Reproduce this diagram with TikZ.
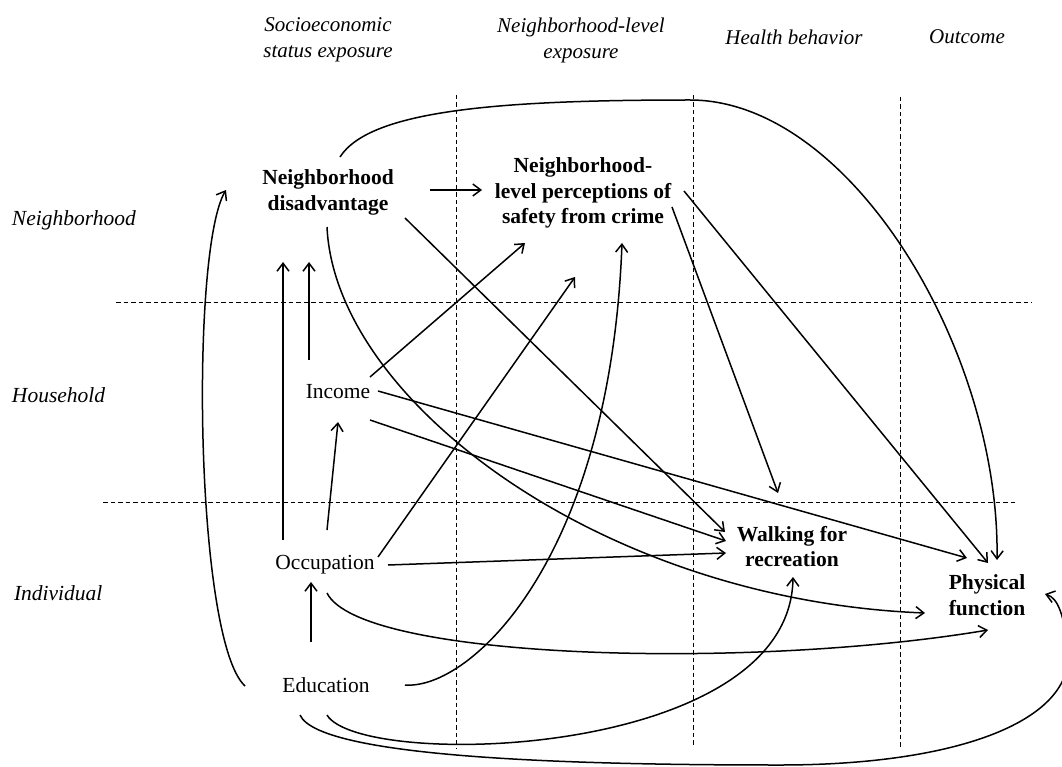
\documentclass[tikz,border=0pt]{standalone}
\usepackage{fontspec}
\setmainfont{Liberation Serif}
\usetikzlibrary{arrows.meta,calc}
\begin{document}
\begin{tikzpicture}[x=1pt,y=-1pt,
  every node/.style={inner sep=0pt, outer sep=0pt, align=center},
  var/.style={font=\fontsize{21.5}{25.5}\selectfont\bfseries},
  lab/.style={font=\fontsize{21.5}{25.5}\selectfont},
  hdr/.style={font=\fontsize{21}{26}\selectfont\itshape},
  rowlab/.style={font=\fontsize{21.5}{26}\selectfont\itshape, anchor=west, align=left},
  gridline/.style={dash pattern=on 4.5pt off 3pt, line width=1pt},
  arr/.style={line width=1.5pt, -{Straight Barb[length=8pt,width=12pt]}}]
\fill[white] (0,0) rectangle (1062,767);
\useasboundingbox (0,0) rectangle (1062,767);

% grid
\draw[gridline] (456,95) -- (456,749);
\draw[gridline] (693,95) -- (693,746);
\draw[gridline] (900,97) -- (900,748);
\draw[gridline] (116,302) -- (1032,302);
\draw[gridline] (103,502) -- (1018,502);

% headers
\node[hdr] (h1) at (328,40) {Socioeconomic\\status exposure};
\node[hdr] (h2) at (581,40.5) {Neighborhood-level\\exposure};
\node[hdr] (h3) at (794,37) {Health behavior};
\node[hdr] (h4) at (967,37) {Outcome};
\node[rowlab] (r1) at (12,220) {Neighborhood};
\node[rowlab] (r2) at (12,395) {Household};
\node[rowlab] (r3) at (14,593) {Individual};

% variables
\node[var] (ND) at (328,192.5) {Neighborhood\\disadvantage};
\node[var] (NP) at (583,193) {Neighborhood-\\level perceptions of\\safety from crime};
\node[lab] (Inc) at (338,392) {Income};
\node[lab] (Occ) at (325,565) {Occupation};
\node[lab] (Edu) at (326,685) {Education};
\node[var] (Walk) at (792,546.5) {Walking for\\recreation};
\node[var] (PF) at (987,595) {Physical\\function};

\coordinate (topc) at (690,100);
\coordinate (ebot) at (780,765);
\coordinate (eright) at (1068,650);

% connectors
\draw[arr] ($(ND)+(102,-2.5)$) -- ($(NP)+(-101,-3)$);
\draw[arr] ($(Occ)+(-42,-25)$) -- ($(ND)+(-45,69.5)$);
\draw[arr] ($(Inc)+(-29,-32)$) -- ($(ND)+(-19,69.5)$);
\draw[arr] ($(ND)+(77,25.5)$) -- ($(Walk)+(-67,-14.5)$);
\draw[arr] ($(ND)+(-1,34.5)$) .. controls +(8,173) and +(-325,-13) .. ($(PF)+(-62,18)$);
\draw[arr] ($(ND)+(12,-35.5)$) .. controls +(30,-47) and +(-190,0) .. (topc)
   .. controls +(160,0) and +(3,-210) .. ($(PF)+(10,-35)$);
\draw[arr] ($(NP)+(89,14)$) -- ($(Walk)+(-14,-53.5)$);
\draw[arr] ($(NP)+(101,-2)$) -- ($(PF)+(1,-32)$);
\draw[arr] ($(Inc)+(32,-15)$) -- ($(NP)+(-58,50)$);
\draw[arr] ($(Occ)+(53,-8)$) -- ($(NP)+(-8,84)$);
\draw[arr] ($(Edu)+(79,0)$) .. controls +(65,5) and +(-12,317) .. ($(NP)+(39,50)$);
\draw[arr] ($(Inc)+(32,28)$) -- ($(Walk)+(-66,-5.5)$);
\draw[arr] ($(Inc)+(40,-1)$) -- ($(PF)+(-20,-37)$);
\draw[arr] ($(Occ)+(63,0)$) -- ($(Walk)+(-66,6.5)$);
\draw[arr] ($(Occ)+(2,-35)$) -- ($(Inc)+(0,30)$);
\draw[arr] ($(Edu)+(-15,-43)$) -- ($(Occ)+(-14,17)$);
\draw[arr] ($(Occ)+(2,28)$) .. controls +(33,67) and +(-238,40) .. ($(PF)+(1,35)$);
\draw[arr] ($(Edu)+(1,30)$) .. controls +(33,55) and +(-3,183) .. ($(Walk)+(1,30.5)$);
\draw[arr] ($(Edu)+(-26,30)$) .. controls +(20,45) and +(-180,0) .. (ebot)
   .. controls +(180,0) and +(7,70) .. (eright)
   .. controls +(-4,-35) and +(13,4) .. ($(PF)+(58,-1)$);
\draw[arr] ($(Edu)+(-81,1)$) .. controls +(-50,-46) and +(-36,60) .. ($(ND)+(-102,-2.5)$);
\end{tikzpicture}
\end{document}
